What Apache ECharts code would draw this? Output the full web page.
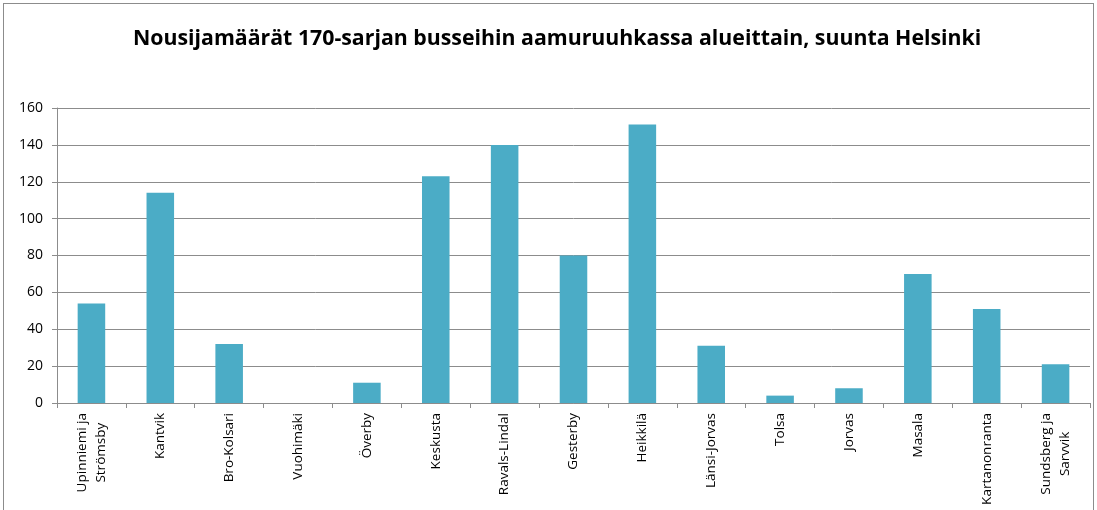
<!DOCTYPE html>
<html>
<head>
<meta charset="utf-8">
<script src="https://cdn.jsdelivr.net/npm/echarts@6/dist/echarts.min.js"></script>
<style>
  html, body { margin: 0; padding: 0; background: #fff; }
  #frame { position: absolute; left: 3px; top: 3px; width: 1091px; height: 510px; border: 1px solid #8c8c8c; box-sizing: border-box; }
  #chart { position: absolute; left: 0; top: 0; width: 1097px; height: 510px; }
</style>
</head>
<body>
<div id="frame"></div>
<div id="chart"></div>
<script>
// Boardings per area, morning peak, towards Helsinki
const areas = [
  'Upinniemi ja\nStrömsby', 'Kantvik', 'Bro-Kolsari', 'Vuohimäki', 'Överby',
  'Keskusta', 'Ravals-Lindal', 'Gesterby', 'Heikkilä', 'Länsi-Jorvas',
  'Tolsa', 'Jorvas', 'Masala', 'Kartanonranta', 'Sundsberg ja\nSarvvik'
];
const boardings = [54, 114, 32, 0, 11, 123, 140, 80, 151, 31, 4, 8, 70, 51, 21];
const yTicks = { min: 0, max: 160, step: 20 };
const titleText = 'Nousijamäärät 170-sarjan busseihin aamuruuhkassa alueittain, suunta Helsinki';

const font = 'Open Sans';
const chart = echarts.init(document.getElementById('chart'), null, { renderer: 'canvas' });
chart.setOption({
  animation: false,
  title: {
    text: titleText,
    left: 133,
    top: 28,
    padding: 0,
    textStyle: { fontFamily: font, fontWeight: 'bold', fontSize: 21.3, color: '#000' }
  },
  grid: { left: 57, right: 7, top: 108, bottom: 107, containLabel: false },
  xAxis: {
    type: 'category',
    data: areas,
    axisLine: { lineStyle: { color: '#8c8c8c' } },
    axisTick: { show: true, length: 5, lineStyle: { color: '#8c8c8c' } },
    axisLabel: {
      interval: 0,
      rotate: 90,
      margin: 10,
      fontFamily: font,
      fontSize: 13.5,
      color: '#000',
      formatter: v => v.split('\n').map(s => '{c|' + s + '}').join('\n'),
      rich: { c: { align: 'center', fontFamily: font, fontSize: 13.5, color: '#000', lineHeight: 19 } }
    }
  },
  yAxis: {
    type: 'value',
    min: yTicks.min,
    max: yTicks.max,
    interval: yTicks.step,
    axisLine: { show: true, lineStyle: { color: '#8c8c8c' } },
    axisTick: { show: true, length: 5, lineStyle: { color: '#8c8c8c' } },
    splitLine: { lineStyle: { color: '#8c8c8c' } },
    axisLabel: { fontFamily: font, fontSize: 14, color: '#000', margin: 14 }
  },
  series: [{
    type: 'bar',
    data: boardings,
    barWidth: '40%',
    itemStyle: { color: '#4BACC6' }
  }]
});
</script>
</body>
</html>
